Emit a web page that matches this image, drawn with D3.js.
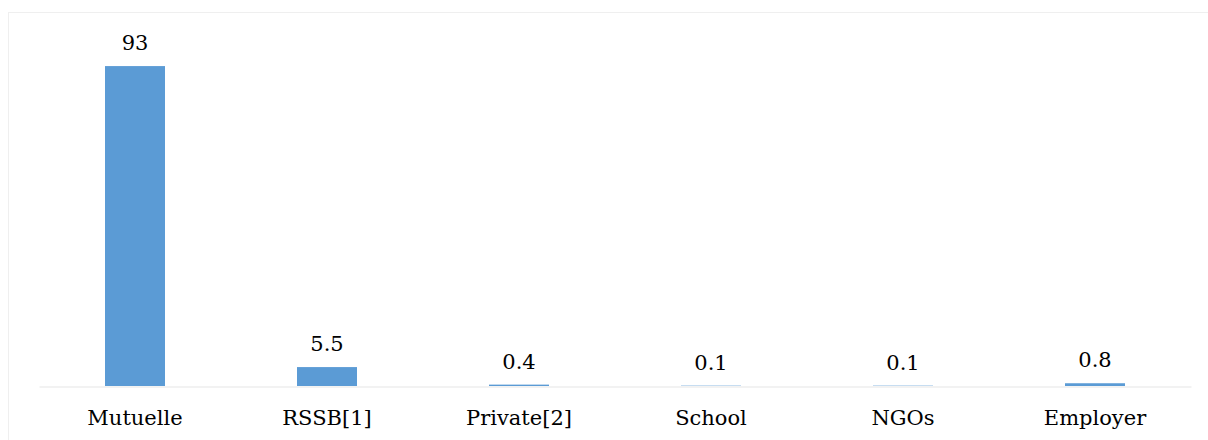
<!DOCTYPE html>
<html>
<head>
<meta charset="utf-8">
<script src="https://cdn.jsdelivr.net/npm/d3@7"></script>
<style>
  html, body { margin: 0; padding: 0; background: #ffffff; }
  svg { display: block; }
  text { font-family: "DejaVu Serif", "Liberation Serif", serif; fill: #000; }
</style>
</head>
<body>
<script>
// Health insurance coverage by provider (%)
const categories = ["Mutuelle", "RSSB[1]", "Private[2]", "School", "NGOs", "Employer"];
const values = [93, 5.5, 0.4, 0.1, 0.1, 0.8];
const valueLabels = ["93", "5.5", "0.4", "0.1", "0.1", "0.8"];

const width = 1208, height = 440;
const svg = d3.select("body").append("svg")
  .attr("width", width)
  .attr("height", height);

// chart area frame
svg.append("rect")
  .attr("x", 8.5).attr("y", 12.5)
  .attr("width", width + 10).attr("height", height)
  .attr("fill", "#ffffff")
  .attr("stroke", "#efefef")
  .attr("stroke-width", 1);

const plot = { left: 39, right: 1191, top: 42, bottom: 386 };

const x = d3.scaleBand()
  .domain(categories)
  .range([plot.left, plot.right])
  .paddingInner(0.6875)
  .paddingOuter(0.34375);

const y = d3.scaleLinear()
  .domain([0, 100])
  .range([plot.bottom, plot.top]);

// bars
svg.append("g").selectAll("rect")
  .data(categories)
  .join("rect")
  .attr("x", d => x(d))
  .attr("width", x.bandwidth())
  .attr("y", (d, i) => y(values[i]))
  .attr("height", (d, i) => y(0) - y(values[i]))
  .attr("fill", "#5B9BD5");

// category axis
const axis = svg.append("g")
  .attr("transform", `translate(0,${plot.bottom + 0.5})`)
  .call(d3.axisBottom(x).tickSize(0).tickPadding(24));
axis.select(".domain").attr("stroke", "#eeeeee").attr("stroke-width", 1.5);
axis.selectAll("text")
  .attr("font-family", "DejaVu Serif, Liberation Serif, serif")
  .attr("font-size", 21)
  .attr("fill", "#000");

// value labels
svg.append("g").selectAll("text")
  .data(categories)
  .join("text")
  .attr("x", d => x(d) + x.bandwidth() / 2)
  .attr("y", (d, i) => y(values[i]) - 16)
  .attr("text-anchor", "middle")
  .attr("font-size", 21)
  .text((d, i) => valueLabels[i]);
</script>
</body>
</html>
